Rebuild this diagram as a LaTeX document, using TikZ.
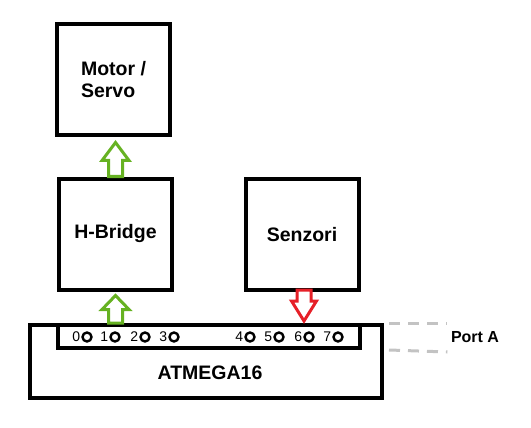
\documentclass[tikz,border=0pt]{standalone}
\usepackage{fontspec}
\setmainfont{Liberation Sans}
\usetikzlibrary{calc}
\definecolor{arrowgreen}{RGB}{102,178,34}
\definecolor{arrowred}{RGB}{230,32,40}
\definecolor{dashgray}{RGB}{195,195,195}

\begin{document}
\begin{tikzpicture}[
		x=1pt, y=-1pt,
		block/.style = {draw, line width=4pt, minimum width=113pt, minimum height=111pt, inner sep=0pt,
			font=\fontsize{19.5}{22}\selectfont\bfseries, align=left},
		chip/.style = {draw, line width=4pt, inner sep=0pt},
		pin/.style = {draw, circle, line width=2.4pt, minimum size=9pt, inner sep=0pt},
		pinlabel/.style = {font=\fontsize{14}{14}\selectfont, inner sep=1pt},
		gout/.style = {draw=arrowgreen, line width=3pt, fill=white},
		rin/.style = {draw=arrowred, line width=3pt, fill=white},
		portline/.style = {draw=dashgray, line width=3pt, dash pattern=on 11pt off 8pt}
	]
	\useasboundingbox (0,0) rectangle (531,428);
	\node[block] (mot) at (113.5,80) {Motor /\\Servo};
	\node[block] (hb) at (115.5,234) {H-Bridge};
	\node[block] (sen) at (302,234.5) {Senzori};
	\node[chip, minimum width=352pt, minimum height=73pt] (atm) at (206,361.5) {};
	\node[chip, minimum width=302pt, minimum height=23pt] (port) at (209,336.5) {};
	\node[font=\fontsize{19.5}{22}\selectfont\bfseries] (atmtext) at (210,373) {ATMEGA16};
	\node[font=\fontsize{16}{16}\selectfont\bfseries] (porta) at (475,337) {Port A};
	% pins of port A
	\foreach \n/\x in {0/87,1/115,2/145,3/174,4/250,5/279,6/309,7/338}
		\node[pin, label={[pinlabel]left:\n}] (p\n) at (\x,337) {};
	% port lines
	\draw[portline] ([xshift=5pt]atm.east |- port.north) -- (porta.west |- port.north);
	\draw[portline] ([xshift=5pt]atm.east |- port.south) -- ([yshift=-2pt]porta.west |- port.south);
	% H-Bridge -> Motor
	\draw[gout] let \p1=(hb.north), \p2=($(mot.south)+(0,5)$) in
		({\x1-7pt},\y1) -- ({\x1-7pt},{\y2-18pt}) -- ({\x1-13.5pt},{\y2-18pt}) -- (\x1,\y2)
		-- ({\x1+13.5pt},{\y2-18pt}) -- ({\x1+7pt},{\y2-18pt}) -- ({\x1+7pt},\y1) -- cycle;
	% ATMEGA16 -> H-Bridge
	\draw[gout] let \p1=(hb.south |- port.north), \p2=($(hb.south)+(0,4)$) in
		({\x1-7pt},\y1) -- ({\x1-7pt},{\y2-14pt}) -- ({\x1-13.5pt},{\y2-14pt}) -- (\x1,\y2)
		-- ({\x1+13.5pt},{\y2-14pt}) -- ({\x1+7pt},{\y2-14pt}) -- ({\x1+7pt},\y1) -- cycle;
	% Senzori -> ATMEGA16
	\draw[rin] let \p1=($(sen.south)+(2,-2)$), \p2=($(sen.south |- port.north)+(2,-2)$) in
		({\x1-7pt},\y1) -- ({\x1-7pt},{\y2+20pt}) -- ({\x1-12.5pt},{\y2+20pt}) -- (\x1,\y2)
		-- ({\x1+12.5pt},{\y2+20pt}) -- ({\x1+7pt},{\y2+20pt}) -- ({\x1+7pt},\y1) -- cycle;
\end{tikzpicture}
\end{document}
